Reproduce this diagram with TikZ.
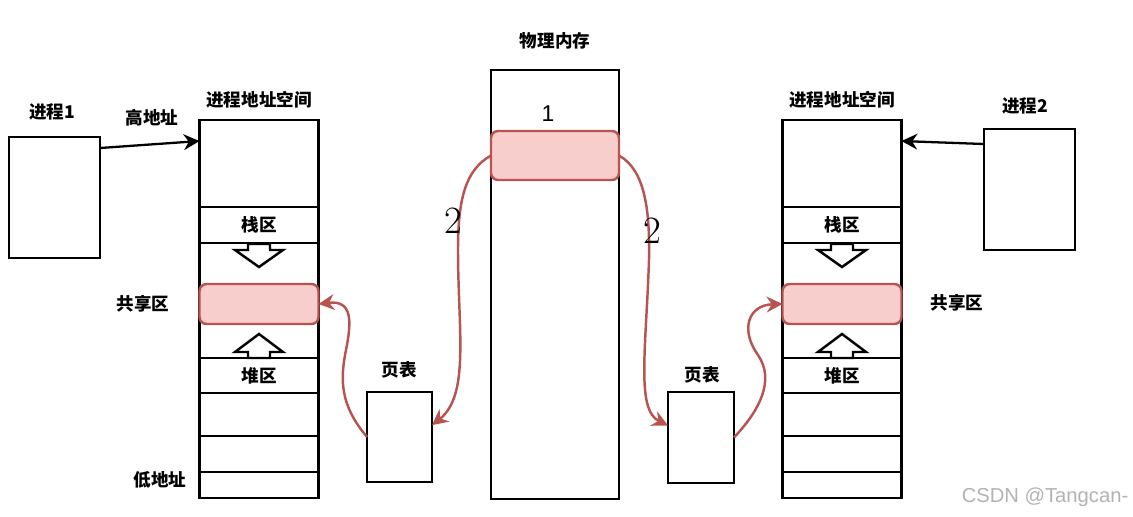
\documentclass[tikz,border=0pt]{standalone}
\usepackage{fontspec}
\newfontfamily\cjk{Noto Sans CJK SC}
\newfontfamily\wmfont{Liberation Sans}
\usetikzlibrary{arrows.meta}
\definecolor{shfill}{HTML}{F8CECC}
\definecolor{shline}{HTML}{B85450}
\tikzset{
  cell/.style={draw, line width=1.4pt, inner sep=0pt, outer sep=0pt, font=\cjk\bfseries},
  share/.style={draw=shline, fill=shfill, line width=1.4pt, rounded corners=4pt, inner sep=0pt, outer sep=0pt},
  lbl/.style={font=\cjk\bfseries, inner sep=0pt},
  hand/.style={font=\fontsize{22}{22}\selectfont, inner sep=0pt},
  link/.style={-{Stealth[length=9pt,width=9pt]}, line width=1.3pt},
  maplink/.style={-{Stealth[length=9pt,width=9pt]}, shline, line width=1.4pt},
  growarrow/.style={draw, line width=1.4pt, fill=white, line join=miter},
}
\begin{document}
\begin{tikzpicture}[x=0.02cm, y=-0.02cm]
  \useasboundingbox (0,0) rectangle (1133,517);

  % address spaces of the two processes
  \foreach \cx/\s in {259/L, 842/R} {
    \node[cell, minimum width=2.38cm, minimum height=7.56cm] (col\s) at (\cx,309) {};
    \node[lbl] (space\s) at (\cx,100) {进程地址空间};
    \draw[growarrow] (\cx-11,244) -- (\cx-11,250) -- (\cx-24,250) -- (\cx,267)
      -- (\cx+24,250) -- (\cx+11,250) -- (\cx+11,244) -- cycle;
    \draw[growarrow] (\cx,334) -- (\cx+24,352) -- (\cx+11,352) -- (\cx+11,358)
      -- (\cx-11,358) -- (\cx-11,352) -- (\cx-24,352) -- cycle;
    \node[cell, minimum width=2.38cm, minimum height=0.72cm] (stack\s) at (\cx,225) {栈区};
    \node[share, minimum width=2.38cm, minimum height=0.8cm] (share\s) at (\cx,304) {};
    \node[cell, minimum width=2.38cm, minimum height=0.70cm] (heap\s) at (\cx,375.5) {堆区};
    \node[cell, minimum width=2.38cm, minimum height=0.86cm] (rowa\s) at (\cx,414.5) {};
    \node[cell, minimum width=2.38cm, minimum height=0.72cm] (rowb\s) at (\cx,454) {};
    \node[cell, minimum width=2.38cm, minimum height=0.52cm] (rowc\s) at (\cx,485) {};
  }
  \node[lbl] (highL) at (152,118) {高地址};
  \node[lbl] (lowL) at (160,480) {低地址};
  \node[lbl] (shtxtL) at (143,304) {共享区};
  \node[lbl] (shtxtR) at (957,303) {共享区};

  % processes
  \node[cell, minimum width=1.82cm, minimum height=2.42cm] (proc1) at (54.5,197.5) {};
  \node[lbl] (proc1txt) at (52,112) {进程1};
  \node[cell, minimum width=1.82cm, minimum height=2.42cm] (proc2) at (1029.5,189.5) {};
  \node[lbl] (proc2txt) at (1025,106) {进程2};
  \draw[link] ([yshift=-0.22cm]proc1.north east) -- ([yshift=-0.42cm]colL.north west);
  \draw[link] ([yshift=-0.3cm]proc2.north west) -- ([yshift=-0.42cm]colR.north east);

  % physical memory
  \node[cell, minimum width=2.56cm, minimum height=8.58cm] (phys) at (555,284.5) {};
  \node[lbl] (phystxt) at (555,41) {物理内存};
  \node[share, minimum width=2.56cm, minimum height=0.98cm] (physShare) at (555,155.5) {};
  \node[inner sep=0pt, font=\wmfont\fontsize{13}{13}\selectfont] (one) at (548,114) {1};

  % page tables
  \node[cell, minimum width=1.3cm, minimum height=1.8cm] (pageL) at (399.5,437) {};
  \node[lbl] (pagetxtL) at (399,370) {页表};
  \node[cell, minimum width=1.32cm, minimum height=1.82cm] (pageR) at (701,437.5) {};
  \node[lbl] (pagetxtR) at (702,375) {页表};

  % mappings
  \draw[maplink] (physShare.west) .. controls (465,170) and (458,200) .. (458,250)
    .. controls (458,330) and (470,395) .. (pageL.20);
  \draw[maplink] (pageL.west) .. controls (340,405) and (340,380) .. (346,350)
    .. controls (352,320) and (352,300) .. (shareL.east);
  \draw[maplink] (physShare.east) .. controls (645,170) and (650,210) .. (649,260)
    .. controls (646,350) and (636,410) .. (pageR.160);
  \draw[maplink] (pageR.east) .. controls (760,410) and (775,380) .. (758,355)
    .. controls (740,330) and (748,305) .. (shareR.west);
  \node[hand] (twoL) at (453,221) {2};
  \node[hand] (twoR) at (652,231) {2};

  \node[font=\wmfont\fontsize{11.5}{11.5}\selectfont, text=black!30] (mark) at (1045,497) {CSDN @Tangcan-};
\end{tikzpicture}
\end{document}
